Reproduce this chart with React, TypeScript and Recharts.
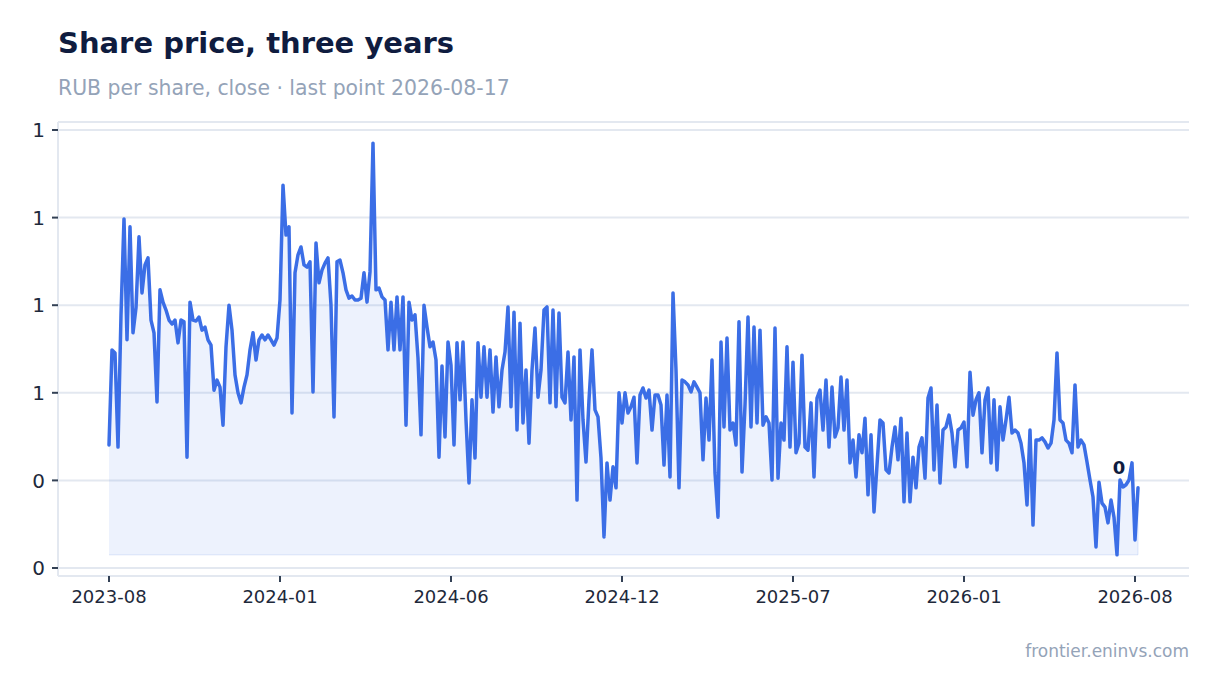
import React from 'react'
import {
  ComposedChart, Area, Line, XAxis, YAxis, CartesianGrid, ReferenceLine
} from 'recharts'

// closing prices, one value per trading step
const closesAug23Jan24 = [
  0.481, 0.698, 0.691, 0.476, 0.778, 0.997, 0.721, 0.979, 0.737, 0.794,
  0.956, 0.828, 0.892, 0.908, 0.766, 0.737, 0.579, 0.835, 0.807, 0.789,
  0.766, 0.757, 0.766, 0.714, 0.766, 0.762, 0.453, 0.807, 0.766, 0.764,
  0.773, 0.743, 0.750, 0.721, 0.709, 0.606, 0.629, 0.613, 0.526, 0.705,
  0.800, 0.743, 0.641, 0.600, 0.577, 0.613, 0.641, 0.698, 0.737, 0.675,
  0.721, 0.732, 0.721, 0.732, 0.721, 0.709, 0.725, 0.812, 1.074
]
const closesJan24Jun24 = [
  0.960, 0.979, 0.554, 0.874, 0.915, 0.933, 0.892, 0.887, 0.899, 0.602,
  0.942, 0.851, 0.880, 0.896, 0.908, 0.800, 0.545, 0.899, 0.903, 0.874,
  0.835, 0.816, 0.821, 0.812, 0.812, 0.816, 0.874, 0.807, 0.876, 1.170,
  0.835, 0.839, 0.819, 0.812, 0.698, 0.807, 0.698, 0.819, 0.698, 0.819,
  0.526, 0.807, 0.766, 0.778, 0.679, 0.504, 0.800, 0.750, 0.705, 0.716,
  0.675, 0.453, 0.661, 0.499, 0.716, 0.663, 0.481, 0.714
]
const closesJun24Dec24 = [
  0.584, 0.716, 0.538, 0.394, 0.584, 0.451, 0.714, 0.590, 0.705, 0.590,
  0.698, 0.556, 0.682, 0.568, 0.652, 0.693, 0.796, 0.568, 0.784, 0.515,
  0.759, 0.531, 0.652, 0.485, 0.652, 0.748, 0.590, 0.652, 0.789, 0.796,
  0.577, 0.789, 0.568, 0.782, 0.590, 0.577, 0.693, 0.538, 0.682, 0.355,
  0.698, 0.538, 0.442, 0.584, 0.698, 0.561, 0.545, 0.451, 0.271, 0.440,
  0.355, 0.431, 0.383, 0.600, 0.531, 0.600, 0.554
]
const closesDec24Jul25 = [
  0.568, 0.590, 0.440, 0.595, 0.611, 0.588, 0.606, 0.515, 0.595, 0.595,
  0.572, 0.435, 0.595, 0.408, 0.828, 0.652, 0.383, 0.629, 0.625, 0.618,
  0.602, 0.625, 0.613, 0.600, 0.447, 0.588, 0.492, 0.675, 0.417, 0.316,
  0.716, 0.522, 0.725, 0.515, 0.531, 0.481, 0.762, 0.419, 0.572, 0.773,
  0.522, 0.750, 0.531, 0.743, 0.526, 0.545, 0.531, 0.401, 0.748, 0.405,
  0.531, 0.492, 0.705, 0.476, 0.670, 0.463, 0.485, 0.686, 0.476
]
const closesJul25Jan26 = [
  0.469, 0.577, 0.408, 0.588, 0.606, 0.515, 0.629, 0.476, 0.613, 0.499,
  0.520, 0.636, 0.515, 0.629, 0.440, 0.492, 0.408, 0.504, 0.463, 0.542,
  0.367, 0.504, 0.328, 0.435, 0.538, 0.531, 0.424, 0.417, 0.476, 0.522,
  0.447, 0.542, 0.351, 0.508, 0.351, 0.453, 0.383, 0.476, 0.497, 0.405,
  0.588, 0.611, 0.424, 0.572, 0.394, 0.515, 0.522, 0.549, 0.508, 0.431,
  0.515
]
const closesJan26Aug26 = [
  0.520, 0.533, 0.431, 0.647, 0.549, 0.584, 0.600, 0.463, 0.584, 0.611,
  0.440, 0.584, 0.424, 0.568, 0.492, 0.538, 0.590, 0.508, 0.515, 0.508,
  0.485, 0.440, 0.344, 0.515, 0.298, 0.492, 0.492, 0.497, 0.488, 0.474,
  0.485, 0.538, 0.691, 0.538, 0.531, 0.492, 0.485, 0.463, 0.618, 0.476,
  0.492, 0.481, 0.442, 0.401, 0.362, 0.248, 0.396, 0.348, 0.339, 0.303,
  0.355, 0.316, 0.230, 0.401, 0.385, 0.390, 0.401, 0.440, 0.264, 0.383
]

const tickLabels = ['2023-08', '2024-01', '2024-06', '2024-12', '2025-07', '2026-01', '2026-08']
const tickEvery = 57
const yTicks = [0.2, 0.4, 0.6, 0.8, 1.0, 1.2]

const closes = [
  ...closesAug23Jan24, ...closesJan24Jun24, ...closesJun24Dec24,
  ...closesDec24Jul25, ...closesJul25Jan26, ...closesJan26Aug26
]
const data = closes.map((close, i) => ({ i, close }))
const lastIdx = closes.length - 1
const minClose = Math.min(...closes)
const xTicks = tickLabels.map((_, k) => k * tickEvery)

const BLUE = '#3b6ee6'
const NAVY = '#0f1c3f'
const MUTED = '#94a3b8'

const LastLabel = (props: any) => {
  const { x, y, index, value } = props
  if (index !== lastIdx) return <g />
  return (
    <text x={x - 19} y={y - 14} textAnchor="middle" fontSize={18} fontWeight={700} fill={NAVY}>
      {Number(value).toFixed(0)}
    </text>
  )
}

const App = () => {
  return (
    <div style={{ position: 'relative', width: 1204, height: 677, fontFamily: '"DejaVu Sans", sans-serif' }}>
      <div style={{ position: 'absolute', left: 50, top: 21, fontSize: 29, lineHeight: '29px', fontWeight: 700, color: NAVY }}>
        Share price, three years
      </div>
      <div style={{ position: 'absolute', left: 50, top: 70, fontSize: 20.4, lineHeight: '20px', color: MUTED }}>
        RUB per share, close · last point 2026-08-17
      </div>
      <div style={{ position: 'absolute', left: 0, top: 0 }}>
        <ComposedChart width={1204} height={640} data={data} margin={{ top: 114, right: 23, bottom: 42, left: 0 }}>
          <CartesianGrid vertical={false} stroke="#e3e8f0" strokeWidth={2} />
          <XAxis
            dataKey="i"
            type="number"
            domain={[0, lastIdx]}
            ticks={xTicks}
            tickFormatter={(v: number) => tickLabels[xTicks.indexOf(v)] ?? ''}
            padding={{ left: 51, right: 51 }}
            axisLine={{ stroke: '#e3e8f0', strokeWidth: 2 }}
            tickLine={{ stroke: '#334155', strokeWidth: 2 }}
            tickSize={6}
            tickMargin={8}
            tick={{ fill: '#1e293b', fontSize: 18 }}
            height={30}
          />
          <YAxis
            type="number"
            domain={[0.2, 1.2]}
            ticks={yTicks}
            tickFormatter={(v: number) => v.toFixed(0)}
            padding={{ top: 8, bottom: 8 }}
            axisLine={{ stroke: '#e3e8f0', strokeWidth: 2 }}
            tickLine={{ stroke: '#334155', strokeWidth: 2 }}
            tickSize={6}
            tickMargin={7}
            tick={{ fill: '#1e293b', fontSize: 20 }}
            width={50}
          />
          <Area
            type="linear"
            dataKey="close"
            baseValue={minClose}
            stroke="none"
            fill={BLUE}
            fillOpacity={0.09}
            isAnimationActive={false}
          />
          <ReferenceLine
            segment={[{ x: 0, y: minClose }, { x: lastIdx, y: minClose }, ]}
            stroke={BLUE}
            strokeOpacity={0.1}
            strokeWidth={1.5}
          />
          <ReferenceLine
            segment={[{ x: lastIdx, y: minClose }, { x: lastIdx, y: closes[lastIdx] }]}
            stroke={BLUE}
            strokeOpacity={0.1}
            strokeWidth={1.5}
          />
          <Line
            type="linear"
            dataKey="close"
            stroke={BLUE}
            strokeWidth={3.5}
            strokeLinejoin="round"
            strokeLinecap="round"
            dot={false}
            label={<LastLabel />}
            isAnimationActive={false}
          />
        </ComposedChart>
      </div>
      <div style={{ position: 'absolute', right: 23, top: 635, fontSize: 17, lineHeight: '17px', color: MUTED }}>
        frontier.eninvs.com
      </div>
    </div>
  )
}

export default App
